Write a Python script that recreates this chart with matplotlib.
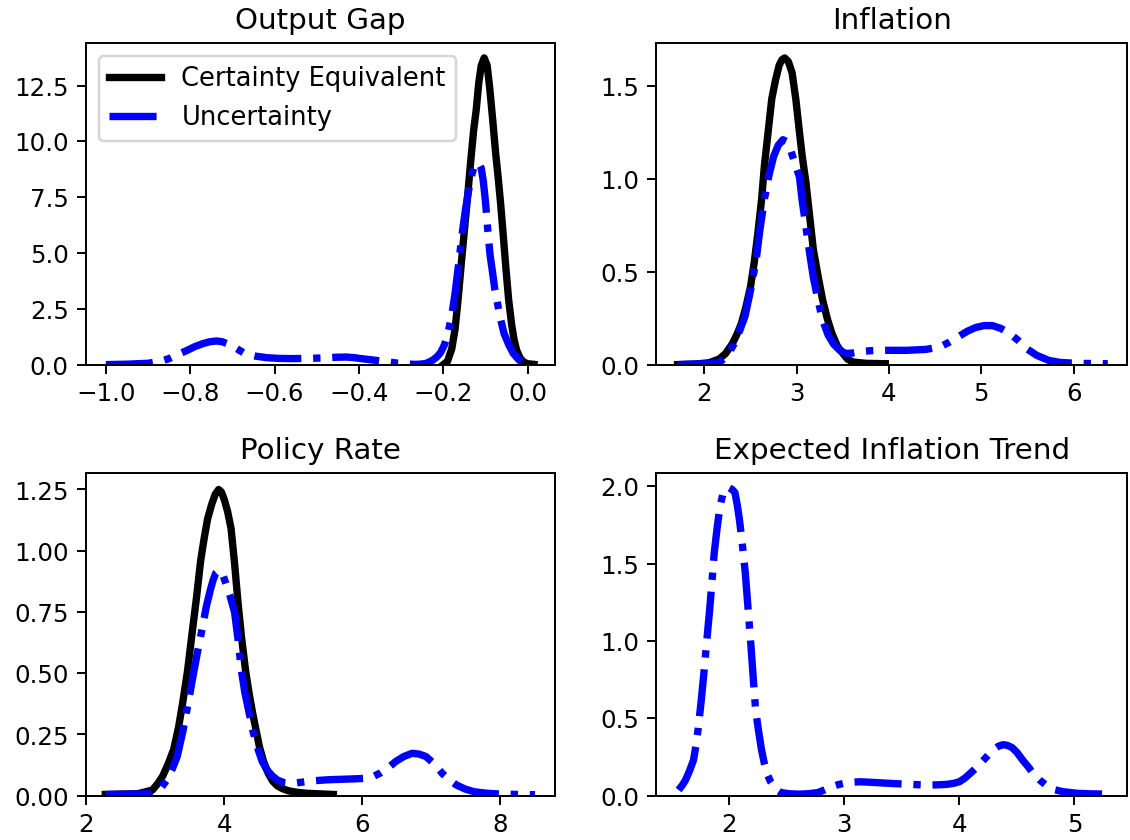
import matplotlib
matplotlib.use("Agg")
import matplotlib.pyplot as plt

# Output Gap
gap_ce_x = [-0.200, -0.190, -0.180, -0.172, -0.165, -0.157, -0.150, -0.143, -0.135, -0.128,
            -0.122, -0.116, -0.110, -0.103, -0.096, -0.090, -0.083, -0.076, -0.070, -0.064,
            -0.057, -0.051, -0.045, -0.038, -0.032, -0.026, -0.018, -0.010, 0.000, 0.015]
gap_ce_y = [0.0, 0.15, 0.7, 1.6, 2.9, 4.6, 6.0, 7.4, 9.1, 10.5,
            11.4, 12.6, 13.4, 13.74, 13.4, 12.4, 11.0, 9.5, 8.4, 7.2,
            5.6, 4.2, 2.9, 1.8, 1.1, 0.64, 0.3, 0.12, 0.04, 0.01]
gap_unc_x = [-1.000, -0.950, -0.900, -0.870, -0.850, -0.830, -0.807, -0.790, -0.770, -0.755,
             -0.738, -0.725, -0.712, -0.690, -0.670, -0.645, -0.618, -0.590, -0.558, -0.520,
             -0.480, -0.455, -0.430, -0.410, -0.395, -0.350, -0.310, -0.285, -0.266, -0.250,
             -0.240, -0.225, -0.215, -0.206, -0.197, -0.189, -0.180, -0.172, -0.163, -0.155,
             -0.147, -0.140, -0.134, -0.128, -0.122, -0.116, -0.110, -0.105, -0.100, -0.094,
             -0.089, -0.083, -0.078, -0.073, -0.065, -0.056, -0.045, -0.034, -0.020, -0.005,
             0.015]
gap_unc_y = [0.0, 0.02, 0.06, 0.15, 0.27, 0.45, 0.64, 0.80, 0.94, 1.02,
             1.06, 1.03, 0.94, 0.72, 0.49, 0.38, 0.31, 0.28, 0.27, 0.28,
             0.30, 0.33, 0.34, 0.31, 0.27, 0.17, 0.07, 0.03, 0.01, 0.03,
             0.06, 0.2, 0.35, 0.55, 0.9, 1.4, 2.2, 3.2, 4.6, 5.9,
             7.0, 7.8, 8.4, 8.8, 9.0, 9.03, 8.8, 8.2, 7.3, 5.9,
             4.9, 4.1, 3.4, 2.9, 2.1, 1.4, 0.9, 0.5, 0.2, 0.05,
             0.01]

# Inflation
inf_ce_x = [1.71, 1.90, 2.05, 2.16, 2.23, 2.30, 2.35, 2.40, 2.45, 2.50, 2.54, 2.58,
            2.62, 2.65, 2.69, 2.73, 2.77, 2.81, 2.84, 2.87, 2.91, 2.95, 2.99, 3.03,
            3.06, 3.10, 3.14, 3.18, 3.23, 3.28, 3.33, 3.38, 3.44, 3.50, 3.55, 3.61,
            3.75, 3.96]
inf_ce_y = [0.0, 0.003, 0.01, 0.03, 0.06, 0.11, 0.16, 0.22, 0.31, 0.42, 0.55, 0.71,
            0.89, 1.07, 1.25, 1.43, 1.53, 1.61, 1.64, 1.65, 1.63, 1.57, 1.43, 1.25,
            1.12, 0.98, 0.80, 0.62, 0.48, 0.35, 0.25, 0.17, 0.10, 0.06, 0.03, 0.014,
            0.007, 0.005]
inf_unc_x = [1.71, 2.00, 2.16, 2.25, 2.32, 2.38, 2.44, 2.50, 2.56, 2.60, 2.65, 2.70,
             2.75, 2.80, 2.85, 2.89, 2.93, 2.97, 3.03, 3.06, 3.10, 3.14, 3.18, 3.23,
             3.28, 3.34, 3.40, 3.46, 3.53, 3.60, 3.69, 3.80, 3.93, 4.05, 4.20, 4.40,
             4.55, 4.65, 4.75, 4.85, 4.94, 5.03, 5.12, 5.21, 5.30, 5.40, 5.49, 5.60,
             5.73, 5.85, 5.96, 6.15, 6.37]
inf_unc_y = [0.0, 0.005, 0.01, 0.05, 0.11, 0.18, 0.26, 0.40, 0.56, 0.72, 0.89, 1.02,
             1.12, 1.18, 1.21, 1.20, 1.16, 1.10, 1.01, 0.88, 0.74, 0.60, 0.47, 0.35,
             0.24, 0.16, 0.11, 0.08, 0.06, 0.062, 0.07, 0.075, 0.077, 0.077, 0.077, 0.082,
             0.095, 0.12, 0.15, 0.18, 0.20, 0.21, 0.21, 0.195, 0.17, 0.13, 0.086, 0.05,
             0.023, 0.012, 0.009, 0.006, 0.005]

# Policy Rate
rate_ce_x = [2.28, 2.75, 2.96, 3.04, 3.11, 3.19, 3.27, 3.34, 3.40, 3.47, 3.53, 3.60,
             3.66, 3.71, 3.76, 3.82, 3.87, 3.92, 3.96, 4.00, 4.05, 4.10, 4.15, 4.20,
             4.25, 4.31, 4.36, 4.41, 4.46, 4.51, 4.57, 4.64, 4.70, 4.77, 4.85, 4.93,
             5.05, 5.19, 5.58]
rate_ce_y = [0.005, 0.008, 0.023, 0.05, 0.08, 0.13, 0.19, 0.28, 0.38, 0.51, 0.65, 0.81,
             0.96, 1.05, 1.13, 1.19, 1.23, 1.25, 1.24, 1.21, 1.16, 1.09, 0.95, 0.79,
             0.65, 0.51, 0.42, 0.34, 0.27, 0.20, 0.14, 0.09, 0.06, 0.04, 0.028, 0.02,
             0.014, 0.01, 0.005]
rate_unc_x = [2.28, 2.96, 3.08, 3.17, 3.25, 3.32, 3.40, 3.48, 3.55, 3.61, 3.68, 3.74,
              3.80, 3.84, 3.88, 3.92, 3.97, 4.02, 4.08, 4.15, 4.20, 4.25, 4.30, 4.36,
              4.42, 4.49, 4.55, 4.62, 4.70, 4.77, 4.87, 4.98, 5.12, 5.29, 5.50, 5.70,
              5.90, 6.07, 6.17, 6.27, 6.38, 6.48, 6.60, 6.72, 6.82, 6.92, 7.04, 7.16,
              7.26, 7.36, 7.49, 7.62, 7.80, 7.98, 8.25, 8.50]
rate_unc_y = [0.005, 0.008, 0.03, 0.064, 0.11, 0.16, 0.26, 0.38, 0.49, 0.58, 0.68, 0.77,
              0.84, 0.88, 0.91, 0.92, 0.91, 0.87, 0.82, 0.75, 0.64, 0.51, 0.42, 0.34,
              0.26, 0.19, 0.14, 0.105, 0.08, 0.064, 0.053, 0.05, 0.055, 0.061, 0.065, 0.067,
              0.069, 0.071, 0.08, 0.094, 0.115, 0.139, 0.160, 0.173, 0.17, 0.16, 0.13, 0.09,
              0.065, 0.044, 0.027, 0.016, 0.01, 0.007, 0.005, 0.004]

# Expected Inflation Trend (uncertainty only)
trend_unc_x = [1.56, 1.59, 1.62, 1.655, 1.69, 1.71, 1.73, 1.755, 1.78, 1.805, 1.83, 1.85,
               1.87, 1.895, 1.92, 1.945, 1.97, 2.00, 2.025, 2.05, 2.07, 2.09, 2.115, 2.14,
               2.165, 2.19, 2.21, 2.23, 2.255, 2.28, 2.305, 2.33, 2.36, 2.39, 2.42, 2.45,
               2.53, 2.61, 2.69, 2.77, 2.83, 2.89, 2.95, 3.02, 3.08, 3.14, 3.25, 3.39,
               3.55, 3.71, 3.80, 3.89, 3.95, 4.00, 4.05, 4.11, 4.16, 4.21, 4.26, 4.30,
               4.34, 4.38, 4.42, 4.46, 4.50, 4.55, 4.60, 4.64, 4.70, 4.77, 4.83, 4.90,
               5.03, 5.15, 5.29]
trend_unc_y = [0.037, 0.065, 0.10, 0.16, 0.23, 0.32, 0.43, 0.60, 0.79, 1.00, 1.20, 1.38,
               1.57, 1.73, 1.87, 1.95, 1.99, 1.99, 1.98, 1.96, 1.88, 1.78, 1.62, 1.44,
               1.20, 0.96, 0.75, 0.55, 0.42, 0.30, 0.21, 0.14, 0.09, 0.058, 0.035, 0.02,
               0.012, 0.01, 0.013, 0.02, 0.038, 0.058, 0.072, 0.084, 0.088, 0.09, 0.086, 0.08,
               0.074, 0.069, 0.07, 0.073, 0.08, 0.09, 0.115, 0.155, 0.19, 0.23, 0.27, 0.30,
               0.32, 0.33, 0.325, 0.31, 0.28, 0.23, 0.185, 0.145, 0.10, 0.058, 0.038, 0.026,
               0.015, 0.012, 0.01]

fig, axes = plt.subplots(2, 2, figsize=(6.4, 4.76), dpi=176.6)
axes[0, 0].set_position([0.0761, 0.5655, 0.4150, 0.3830])
axes[0, 1].set_position([0.5805, 0.5655, 0.4168, 0.3830])
axes[1, 0].set_position([0.0761, 0.0527, 0.4150, 0.3838])
axes[1, 1].set_position([0.5805, 0.0527, 0.4168, 0.3838])

ax = axes[0, 0]
ax.plot(gap_ce_x, gap_ce_y, color="black", lw=3, label="Certainty Equivalent")
ax.plot(gap_unc_x, gap_unc_y, color="blue", lw=3, ls="-.", label="Uncertainty")
ax.set_xlim(-1.047, 0.065)
ax.set_ylim(0, 14.42)
ax.set_title("Output Gap")
ax.legend(loc="upper left", prop={"size": 10.5})

ax = axes[0, 1]
ax.plot(inf_ce_x, inf_ce_y, color="black", lw=3)
ax.plot(inf_unc_x, inf_unc_y, color="blue", lw=3, ls="-.")
ax.set_xlim(1.477, 6.58)
ax.set_ylim(0, 1.732)
ax.set_title("Inflation")

ax = axes[1, 0]
ax.plot(rate_ce_x, rate_ce_y, color="black", lw=3)
ax.plot(rate_unc_x, rate_unc_y, color="blue", lw=3, ls="-.")
ax.set_xlim(2.0, 8.79)
ax.set_ylim(0, 1.317)
ax.set_xticks([2, 4, 6, 8])
ax.set_title("Policy Rate")

ax = axes[1, 1]
ax.plot(trend_unc_x, trend_unc_y, color="blue", lw=3, ls="-.")
ax.set_xlim(1.365, 5.458)
ax.set_ylim(0, 2.086)
ax.set_title("Expected Inflation Trend")

fig.savefig("out.png", dpi=176.6)
